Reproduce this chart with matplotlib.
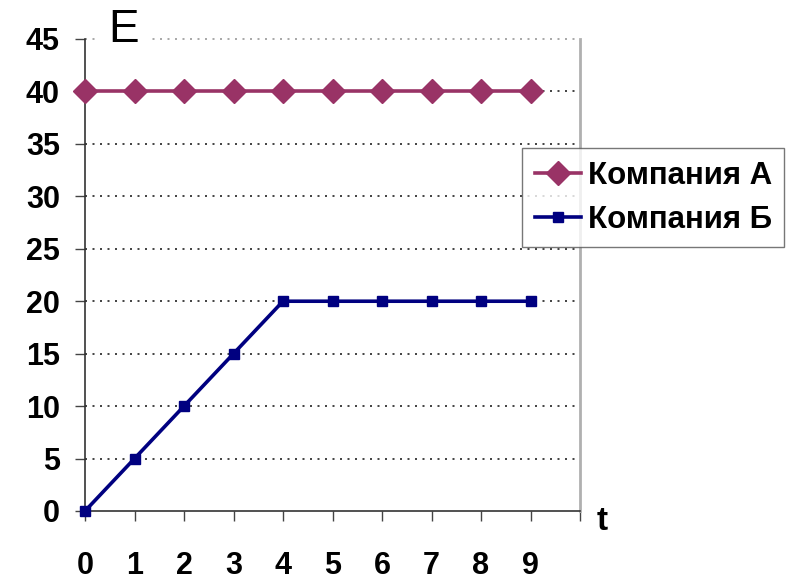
import matplotlib
matplotlib.use("Agg")
import matplotlib.pyplot as plt

# Data
t_values = [0, 1, 2, 3, 4, 5, 6, 7, 8, 9]
company_a = [40, 40, 40, 40, 40, 40, 40, 40, 40, 40]
company_b = [0, 5, 10, 15, 20, 20, 20, 20, 20, 20]
series_names = ["Компания А", "Компания Б"]
y_ticks = [0, 5, 10, 15, 20, 25, 30, 35, 40, 45]

plt.rcParams['font.family'] = ['Liberation Sans', 'DejaVu Sans']

fig = plt.figure(figsize=(7.9, 5.81), dpi=100)
ax = fig.add_axes([85 / 790, 70 / 581, 495 / 790, 472 / 581])

ax.plot(t_values, company_a, color='#993366', lw=2.6, marker='D',
        markersize=12, markeredgecolor='#993366', label=series_names[0],
        zorder=4, clip_on=False)
ax.plot(t_values, company_b, color='#000080', lw=2.6, marker='s',
        markersize=6.5, markeredgecolor='#000080', label=series_names[1],
        zorder=4, clip_on=False)

ax.set_xlim(0, 10)
ax.set_ylim(0, 45)

# x ticks at every category boundary, labels under data points only
ax.set_xticks(range(0, 11))
ax.set_xticklabels([str(v) for v in t_values] + [""])
ax.set_yticks(y_ticks)
ax.set_yticklabels([str(v) for v in y_ticks])

ax.tick_params(axis='x', direction='out', length=7, width=1, color='#444444',
               pad=22, labelsize=22)
ax.tick_params(axis='y', direction='out', length=7, width=1, color='#444444',
               pad=11, labelsize=22)
for lab in ax.get_xticklabels() + ax.get_yticklabels():
    lab.set_fontweight('bold')

# dotted horizontal gridlines
for yv in y_ticks[1:]:
    ax.axhline(yv, color='#222222' if yv < 45 else '#999999', lw=1.2,
               linestyle=(0, (1.2, 3.3)), zorder=1, clip_on=False)

ax.spines['top'].set_visible(False)
ax.spines['right'].set_color('#b0b0b0')
ax.spines['right'].set_linewidth(2)
ax.spines['left'].set_color('#333333')
ax.spines['bottom'].set_color('#333333')
ax.spines['left'].set_linewidth(1.2)
ax.spines['bottom'].set_linewidth(1.2)

# axis names
fig.text(108 / 790, 1 - 30 / 581, "E", fontsize=33, va='center', ha='left',
         bbox=dict(facecolor='white', edgecolor='none', pad=8), zorder=5)
fig.text(597 / 790, 1 - 521 / 581, "t", fontsize=24, fontweight='bold',
         va='center', ha='left')

leg = ax.legend(loc='upper left', bbox_to_anchor=(522 / 790, 1 - 148 / 581),
                bbox_transform=fig.transFigure, fancybox=False, frameon=True,
                prop={'size': 22.5, 'weight': 'bold'}, handlelength=1.5,
                handletextpad=0.2, borderpad=0.4, labelspacing=0.45,
                borderaxespad=0)
leg.get_frame().set_edgecolor('#555555')
leg.get_frame().set_linewidth(1)

fig.savefig("out.png", dpi=100)
